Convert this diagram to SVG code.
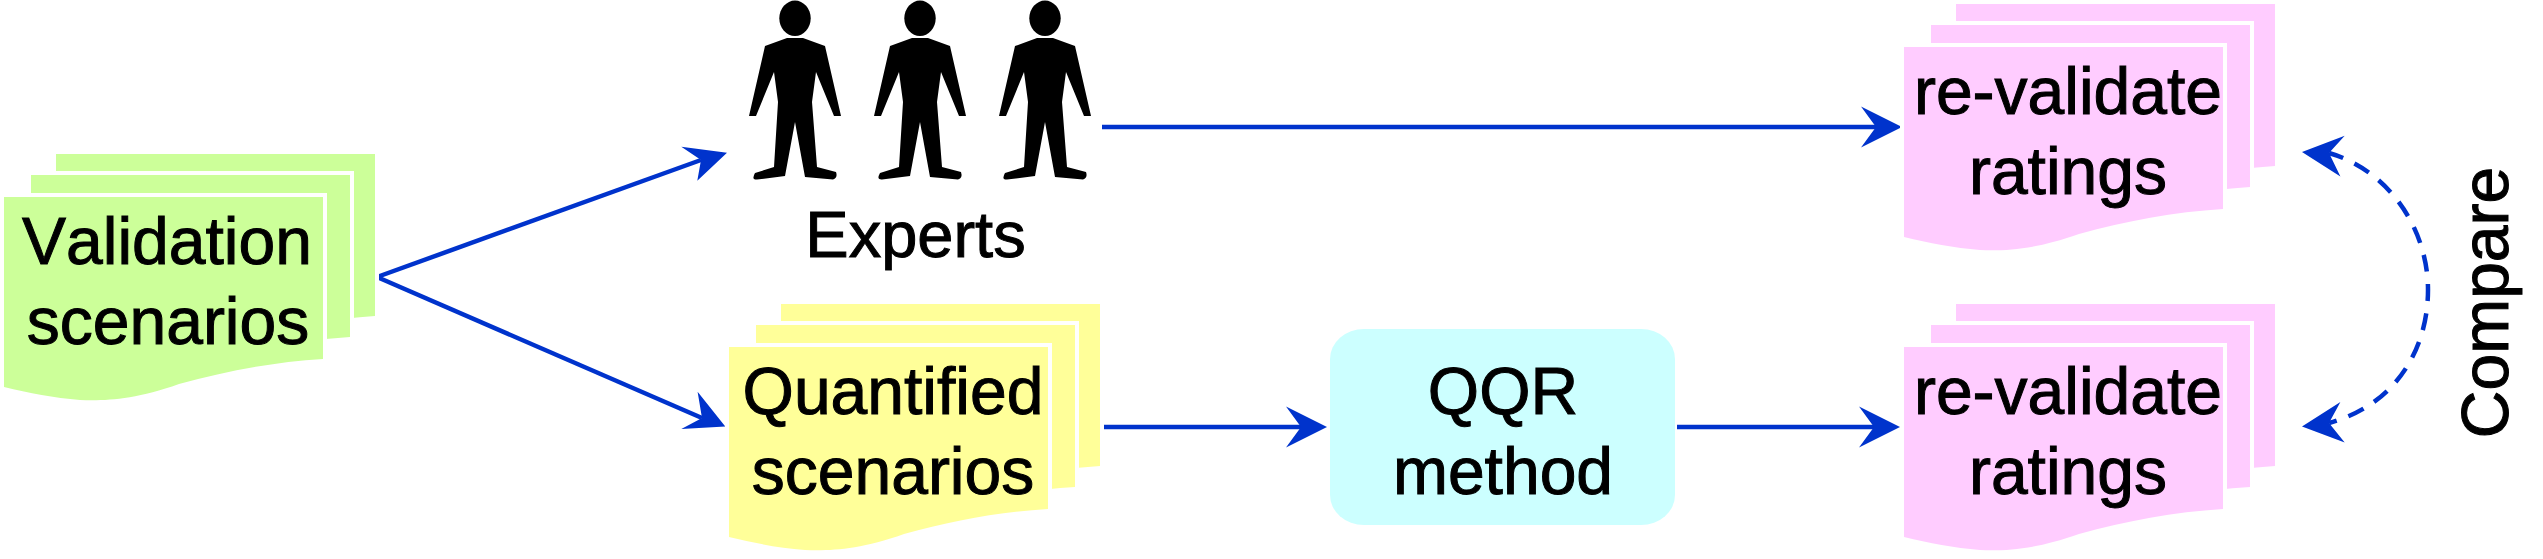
<svg xmlns="http://www.w3.org/2000/svg" xmlns:xlink="http://www.w3.org/1999/xlink" width="2543" height="559" viewBox="0 0 2543 559">
<style>
text{font-family:"Liberation Sans",Arial,sans-serif;font-size:66px;fill:#000;stroke:#000;stroke-width:1px;text-anchor:middle;font-kerning:none}
.sheet{paint-order:stroke;stroke:#fff;stroke-width:8px;stroke-linejoin:miter}
.green{fill:#ccff99}.yellow{fill:#ffff99}.pink{fill:#ffccff}
.conn{fill:none;stroke:#0033cc;stroke-width:4.5}
.dash{stroke-dasharray:17 12.5;stroke-dashoffset:2}
.hd{fill:#0033cc}
</style>
<defs>
<path id="sheet" d="M0 0H319V162C270 165 222 174 175 187C130 203 100 204 76 203C50 201 25 196 0 190Z"/>
<g id="stack">
<use xlink:href="#sheet" href="#sheet" class="sheet" x="52" y="-43"/>
<use xlink:href="#sheet" href="#sheet" class="sheet" x="27" y="-22"/>
<use xlink:href="#sheet" href="#sheet" class="sheet"/>
</g>
<g id="person">
<ellipse cx="0" cy="18.3" rx="15.7" ry="17.7"/>
<path d="M-8 38L-30 46L-46 116L-39 116L-21 72L-17 102L-21 167L-40 173Q-44 180-38 179.5L-10 176L0 122L10 177L38 179.5Q43 178 41 172L22 167L17 102L21 72L39 116L46 116L30 46L8 38Z"/>
</g>
<marker id="head-right" markerUnits="userSpaceOnUse" markerWidth="120" markerHeight="80" viewBox="-60 -40 120 80" refX="0" refY="0" orient="0"><path class="hd" d="M26 0L-15 -20.5L0 0L-15 20.5Z"/></marker>
<marker id="head-up" markerUnits="userSpaceOnUse" markerWidth="120" markerHeight="80" viewBox="-60 -40 120 80" refX="0" refY="0" orient="0"><path class="hd" d="M26 -7.3L-19.7 -13.3L0 0L-3.7 20.7Z"/></marker>
<marker id="head-down" markerUnits="userSpaceOnUse" markerWidth="120" markerHeight="80" viewBox="-60 -40 120 80" refX="0" refY="0" orient="0"><path class="hd" d="M23.3 8.4L-4.4 -26.3L0 0L-20.7 11Z"/></marker>
<marker id="head-cmp-top" markerUnits="userSpaceOnUse" markerWidth="120" markerHeight="80" viewBox="-60 -40 120 80" refX="0" refY="0" orient="0"><path class="hd" d="M-27 -1L15.7 -17.3L0 0L11.4 23.4Z"/></marker>
<marker id="head-cmp-bottom" markerUnits="userSpaceOnUse" markerWidth="120" markerHeight="80" viewBox="-60 -40 120 80" refX="0" refY="0" orient="0"><path class="hd" d="M-27 3.4L11.4 -21L0 0L15.7 19.4Z"/></marker>
</defs>
<g id="connectors">
<path class="conn" marker-end="url(#head-up)" d="M377 277L701 160"/>
<path class="conn" marker-end="url(#head-down)" d="M377 277L702 418"/>
<path class="conn" marker-end="url(#head-right)" d="M1102 127H1876"/>
<path class="conn" marker-end="url(#head-right)" d="M1104 427H1301"/>
<path class="conn" marker-end="url(#head-right)" d="M1677 427H1874"/>
<path class="conn dash" marker-start="url(#head-cmp-top)" marker-end="url(#head-cmp-bottom)" d="M2329 153C2388 170 2428 228 2428 290C2428 350 2395 405 2329 423"/>
</g>
<g id="validation-scenarios" class="green">
<use xlink:href="#stack" href="#stack" x="4" y="197"/>
<text x="167" y="264">Validation</text>
<text x="168" y="344">scenarios</text>
</g>
<g id="experts">
<use xlink:href="#person" href="#person" x="795" y="0"/>
<use xlink:href="#person" href="#person" x="920" y="0"/>
<use xlink:href="#person" href="#person" x="1045" y="0"/>
<text x="915.5" y="257" style="font-size:65px">Experts</text>
</g>
<g id="quantified-scenarios" class="yellow">
<use xlink:href="#stack" href="#stack" x="729" y="347"/>
<text x="893" y="414">Quantified</text>
<text x="893" y="494">scenarios</text>
</g>
<g id="qqr-method">
<rect x="1330" y="329" width="345" height="196" rx="34" ry="30" fill="#ccffff"/>
<text x="1503" y="414">QQR</text>
<text x="1503" y="494">method</text>
</g>
<g id="ratings-top" class="pink">
<use xlink:href="#stack" href="#stack" x="1904" y="47"/>
<text x="2068" y="114">re-validate</text>
<text x="2068" y="194">ratings</text>
</g>
<g id="ratings-bottom" class="pink">
<use xlink:href="#stack" href="#stack" x="1904" y="347"/>
<text x="2068" y="414">re-validate</text>
<text x="2068" y="494">ratings</text>
</g>
<g id="compare">
<text transform="translate(2508 302.5) rotate(-90)">Compare</text>
</g>
</svg>
